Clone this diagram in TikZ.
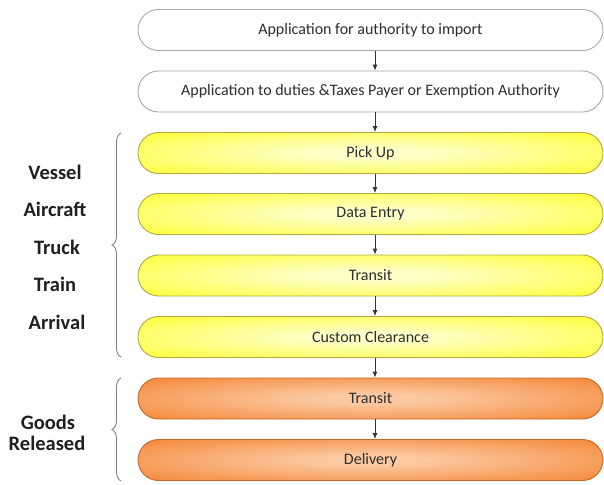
\documentclass[tikz,border=0pt]{standalone}
\usepackage{fontspec}
\setmainfont{Carlito}
\usetikzlibrary{shapes.misc,decorations.pathreplacing,arrows.meta}
\definecolor{txt}{HTML}{2E2E2E}
\definecolor{yelC}{HTML}{FFFFC8}
\definecolor{yelM}{HTML}{FFFF40}
\definecolor{yelE}{HTML}{F6F622}
\definecolor{yelB}{HTML}{B0A844}
\definecolor{oraC}{HTML}{FBC8A0}
\definecolor{oraM}{HTML}{F58A3C}
\definecolor{oraE}{HTML}{EE7A2A}
\definecolor{oraB}{HTML}{C46A2A}
\definecolor{wB}{HTML}{A8A8A8}
\pgfdeclareradialshading{yelshade}{\pgfpoint{0bp}{0bp}}{color(0bp)=(yelC); color(6bp)=(yelC); color(34bp)=(yelM); color(50bp)=(yelE)}
\pgfdeclareradialshading{orashade}{\pgfpoint{0bp}{0bp}}{color(0bp)=(oraC); color(6bp)=(oraC); color(34bp)=(oraM); color(50bp)=(oraE)}
\tikzset{
  box/.style={rounded rectangle, minimum width=465pt, minimum height=41pt, inner sep=0pt,
    font=\fontsize{16}{19}\selectfont, text=txt, line width=0.9pt},
  wbox/.style={box, draw=wB, fill=white},
  ybox/.style={box, draw=yelB, shade, shading=yelshade},
  obox/.style={box, draw=oraB, shade, shading=orashade},
  lab/.style={font=\bfseries\fontsize{20.5}{24}\selectfont, text=black!88},
  arr/.style={-{Latex[length=6pt,width=5pt]}, draw=black!80, line width=0.9pt},
  brc/.style={decorate, decoration={brace, amplitude=9pt, aspect=0.5}, draw=gray, line width=0.9pt}
}
\begin{document}
\begin{tikzpicture}[x=1pt,y=-1pt]
\useasboundingbox (0,0) rectangle (604,484);
\node[wbox] (b1) at (370.5,30) {Application for authority to import};
\node[wbox] (b2) at (370.5,91.5) {Application to duties \&Taxes Payer or Exemption Authority};
\node[ybox] (b3) at (370.5,153) {Pick Up};
\node[ybox] (b4) at (370.5,214) {Data Entry};
\node[ybox] (b5) at (370.5,275.5) {Transit};
\node[ybox] (b6) at (370.5,337) {Custom Clearance};
\node[obox] (b7) at (370.5,398.5) {Transit};
\node[obox] (b8) at (370.5,460) {Delivery};
\foreach \a/\b in {b1/b2,b2/b3,b3/b4,b4/b5,b5/b6,b6/b7,b7/b8}
  \draw[arr] ([xshift=4.5pt]\a.south) -- ([xshift=4.5pt]\b.north);
\draw[brc] (121,357) -- (121,133);
\draw[brc] (121,481) -- (121,378);
\node[lab] (l1) at (55,172) {Vessel};
\node[lab] (l2) at (55,209) {Aircraft};
\node[lab] (l3) at (57,247) {Truck};
\node[lab] (l4) at (55,284) {Train};
\node[lab] (l5) at (57,322) {Arrival};
\node[lab] (l6) at (48,422) {Goods};
\node[lab] (l7) at (47,443) {Released};
\end{tikzpicture}
\end{document}
